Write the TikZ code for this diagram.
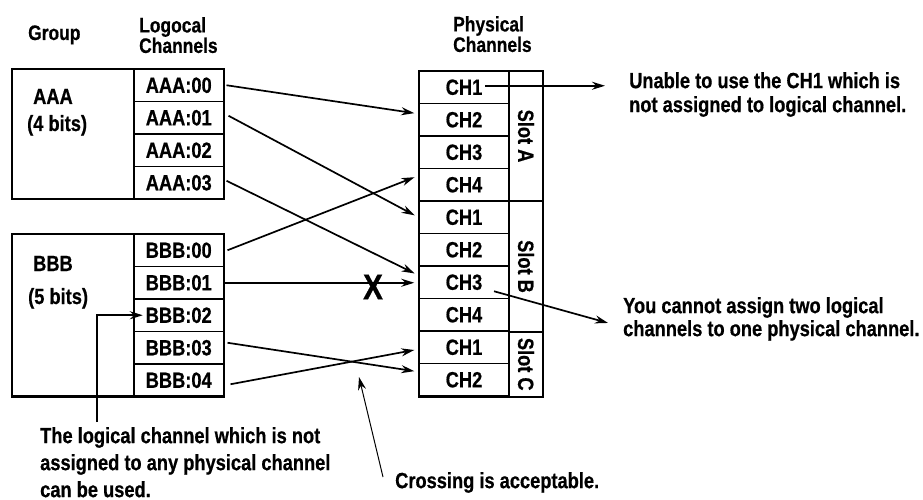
\documentclass[tikz,border=0pt]{standalone}
\usepackage{fontspec}
\setmainfont{Liberation Sans}[FakeStretch=0.83, BoldFeatures={FakeBold=0.6}]
\usetikzlibrary{arrows.meta}

\begin{document}
\begin{tikzpicture}[
    x=1pt, y=-1pt,
    font=\bfseries\fontsize{22}{24}\selectfont,
    >={Stealth[length=13pt, width=8pt]},
    cell/.style={draw, line width=1.5pt, minimum width=90pt, minimum height=32.5pt, inner sep=0pt},
    slot box/.style={draw, line width=2pt, rotate=-90, minimum height=34pt, inner sep=0pt},
    head/.style={font=\bfseries\fontsize{21}{20.5}\selectfont, align=left, inner sep=0pt, anchor=north west},
    lbl/.style={inner sep=0pt, anchor=base west},
    note/.style={align=left, inner sep=0pt, anchor=north west},
    link/.style={->, line width=1.7pt, shorten >=4pt},
    frame/.style={line width=2.2pt},
]
\useasboundingbox (0,0) rectangle (923,500);

% Headers
\node[head, anchor=base west] (hgroup) at (28,40) {Group};
\node[head] (hlog) at (139,17) {Logocal\\Channels};
\node[head] (hphys) at (453,16) {Physical\\Channels};

% Group AAA
\node[lbl] (gA) at (33,104) {AAA};
\node[lbl] (gAbits) at (27,131) {(4 bits)};
\node[cell] (a0) at (178.75,85.25) {AAA:00};
\node[cell] (a1) at (178.75,117.75) {AAA:01};
\node[cell] (a2) at (178.75,150.25) {AAA:02};
\node[cell] (a3) at (178.75,182.75) {AAA:03};
\draw[frame] (12,69) rectangle (224,199);

% Group BBB
\node[lbl] (gB) at (33,271) {BBB};
\node[lbl] (gBbits) at (28,304) {(5 bits)};
\node[cell] (b0) at (178.75,250.25) {BBB:00};
\node[cell] (b1) at (178.75,282.75) {BBB:01};
\node[cell] (b2) at (178.75,315.25) {BBB:02};
\node[cell] (b3) at (178.75,347.75) {BBB:03};
\node[cell] (b4) at (178.75,380.25) {BBB:04};
\draw[frame] (12,234) rectangle (224,396.5);

% Physical channels
\node[cell] (p0) at (464,87.25) {CH1};
\node[cell] (p1) at (464,119.75) {CH2};
\node[cell] (p2) at (464,152.25) {CH3};
\node[cell] (p3) at (464,184.75) {CH4};
\node[cell] (p4) at (464,217.25) {CH1};
\node[cell] (p5) at (464,249.75) {CH2};
\node[cell] (p6) at (464,282.25) {CH3};
\node[cell] (p7) at (464,314.75) {CH4};
\node[cell] (p8) at (464,347.25) {CH1};
\node[cell] (p9) at (464,379.75) {CH2};
\draw[frame] (419,71) rectangle (509,396.5);

% Slots
\node[slot box, minimum width=130pt] (sA) at (526,136) {Slot A};
\node[slot box, minimum width=131pt] (sB) at (526,266.5) {Slot B};
\node[slot box, minimum width=64.5pt] (sC) at (526,364.25) {Slot C};

% Assignments
\draw[link] ([xshift=2pt]a0.east) -- ([yshift=6pt]p1.west);
\draw[link] ([xshift=4pt,yshift=2pt]a1.east) -- (p4.west);
\draw[link] ([xshift=2pt,yshift=2pt]a3.east) -- ([yshift=7pt]p6.west);
\draw[link] ([xshift=3pt]b0.east) -- ([yshift=9pt]p3.west);
\draw[link] (b1.east) -- (b1.east -| p6.west);
\draw[link] ([xshift=3pt,yshift=5pt]b3.east) -- ([yshift=8pt]p9.west);
\draw[link] ([xshift=6pt,yshift=-4pt]b4.east) -- ([yshift=-2pt]p8.west);
\node[font=\bfseries\fontsize{36}{36}\selectfont, inner sep=0pt] (xmark) at (373,287) {X};

% Notes
\node[note] (unable) at (629,72) {Unable to use the CH1 which is\\not assigned to logical channel.};
\node[note, font=\bfseries\fontsize{22}{23}\selectfont] (cannot) at (623,297) {You cannot assign two logical\\channels to one physical channel.};
\node[note, font=\bfseries\fontsize{22}{27}\selectfont] (unused) at (40,427) {The logical channel which is not\\assigned to any physical channel\\can be used.};
\node[note] (cross) at (395,472) {Crossing is acceptable.};

\draw[link, shorten >=0pt] ([xshift=21pt,yshift=1.5pt]p0.center) -- ([xshift=-24pt,yshift=1.5pt]p0.center -| unable.west);
\draw[link, shorten >=0pt] ([xshift=30pt,yshift=-9pt]p6.center) -- ([xshift=-15pt,yshift=-4pt]cannot.west);
\coordinate (cfoot) at (97,422);
\draw[link, shorten >=0pt] (cfoot) |- ([xshift=-3pt]b2.text |- b2.center);
\coordinate (crosstip) at (359,377);
\draw[link, line width=1pt, shorten >=0pt] ([xshift=-12pt,yshift=-5pt]cross.north west) -- (crosstip);

\end{tikzpicture}
\end{document}
